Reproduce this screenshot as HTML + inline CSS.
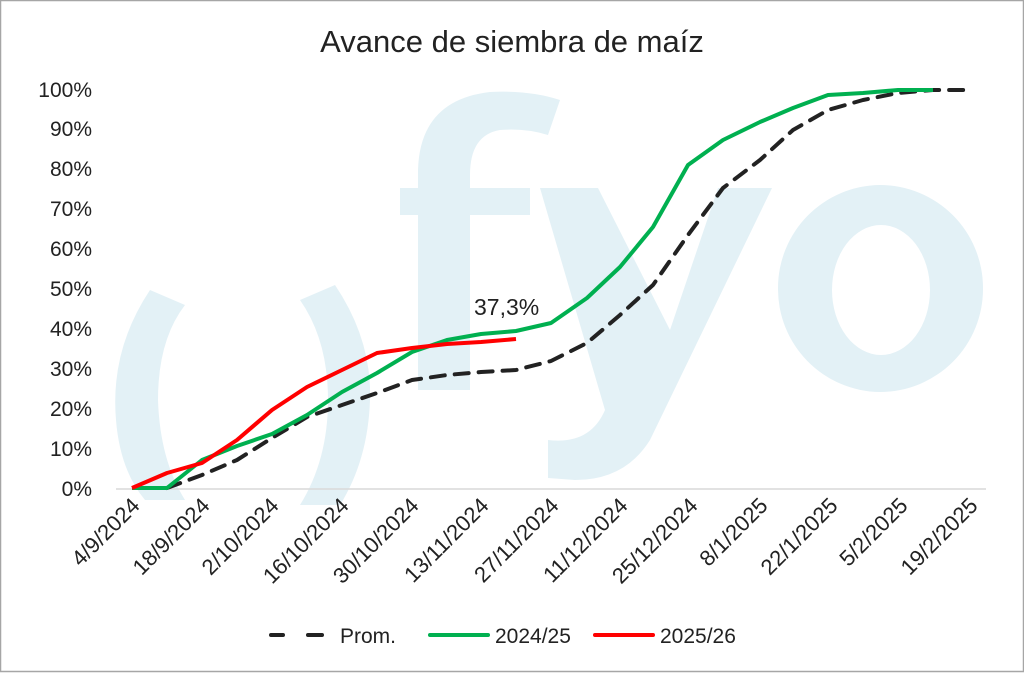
<!DOCTYPE html>
<html><head><meta charset="utf-8"><style>
html,body{margin:0;padding:0;background:#fff}
svg{display:block}
text{font-family:"Liberation Sans",sans-serif;fill:#222}
</style></head><body>
<svg width="1024" height="673" viewBox="0 0 1024 673">
<rect x="0.5" y="0.5" width="1023" height="671" fill="#fff" stroke="#a6a6a6" stroke-width="1.5"/>
<g fill="#e3f1f6" stroke="none">
<path d="M150,290 Q110,350 116,420 Q120,470 145,500 L185,500 Q160,460 158,400 Q158,340 185,305 Z"/>
<path d="M335,285 Q372,340 370,400 Q368,460 340,505 L300,505 Q328,460 328,400 Q328,340 300,300 Z"/>
<path d="M418,390 L418,215 L400,215 L400,188 L418,188 L418,170 Q420,100 490,92 Q530,90 560,100 L548,135 Q525,128 500,130 Q470,135 470,175 L470,188 L530,188 L530,215 L470,215 L470,390 Z"/>
<path d="M540,188 L598,188 L670,330 L718,188 L772,188 L650,440 Q625,480 575,480 L548,478 L548,440 Q590,445 605,410 Z"/>
<path fill-rule="evenodd" d="M880,185 A103,103 0 0 1 983,288 A103,103 0 0 1 880,392 A103,103 0 0 1 778,288 A103,103 0 0 1 880,185 Z M881,225 A49,65 0 0 0 832,290 A49,65 0 0 0 881,355 A49,65 0 0 0 930,290 A49,65 0 0 0 881,225 Z"/>
</g>
<text x="512" y="52" font-size="31" text-anchor="middle">Avance de siembra de maíz</text>
<g font-size="21" text-anchor="end">
<text x="92" y="496">0%</text><text x="92" y="456">10%</text><text x="92" y="416">20%</text><text x="92" y="376">30%</text><text x="92" y="336">40%</text><text x="92" y="296">50%</text><text x="92" y="256">60%</text><text x="92" y="216">70%</text><text x="92" y="176">80%</text><text x="92" y="136">90%</text><text x="92" y="97">100%</text>
</g>
<line x1="116" y1="489" x2="986" y2="489" stroke="#d9d9d9" stroke-width="1.5"/>
<g font-size="22" text-anchor="end">
<text transform="translate(141,507) rotate(-45)">4/9/2024</text>
<text transform="translate(211,507) rotate(-45)">18/9/2024</text>
<text transform="translate(280,507) rotate(-45)">2/10/2024</text>
<text transform="translate(350,507) rotate(-45)">16/10/2024</text>
<text transform="translate(420,507) rotate(-45)">30/10/2024</text>
<text transform="translate(490,507) rotate(-45)">13/11/2024</text>
<text transform="translate(560,507) rotate(-45)">27/11/2024</text>
<text transform="translate(629,507) rotate(-45)">11/12/2024</text>
<text transform="translate(699,507) rotate(-45)">25/12/2024</text>
<text transform="translate(769,507) rotate(-45)">8/1/2025</text>
<text transform="translate(839,507) rotate(-45)">22/1/2025</text>
<text transform="translate(909,507) rotate(-45)">5/2/2025</text>
<text transform="translate(979,507) rotate(-45)">19/2/2025</text>
</g>
<g fill="none" stroke-linejoin="round" stroke-width="4">
<polyline stroke="#222" stroke-dasharray="14,10" stroke-linecap="round" points="167,488 202,475 237,460 272,438 307,417 342,405 377,393 412,380 447,375 481,372 516,370 551,361 587,343 620,315 653,285 688,235 723,188 760,160 793,130 828,110 863,100 898,93 933,90 970,90"/>
<polyline stroke="#00b050" points="132,488 167,488 202,460 237,446 272,434 307,415 342,392 377,373 412,352 447,340 481,334 516,331 551,323 587,298 620,267 653,227 688,165 723,140 760,122 793,108 828,95 863,93 898,90 933,90"/>
<polyline stroke="#ff0000" points="132,488 167,473 202,463 237,440 272,410 307,387 342,370 377,353 412,348 447,344 481,342 516,339"/>
</g>
<text x="474" y="315" font-size="23">37,3%</text>
<g stroke-width="4" stroke-linecap="round">
<line x1="271" y1="635" x2="283" y2="635" stroke="#222"/><line x1="308" y1="635" x2="322" y2="635" stroke="#222"/>
<line x1="430" y1="635" x2="488" y2="635" stroke="#00b050"/>
<line x1="595" y1="635" x2="653" y2="635" stroke="#ff0000"/>
</g>
<g font-size="21"><text x="340" y="643">Prom.</text><text x="495" y="643">2024/25</text><text x="660" y="643">2025/26</text></g>
</svg>
</body></html>
